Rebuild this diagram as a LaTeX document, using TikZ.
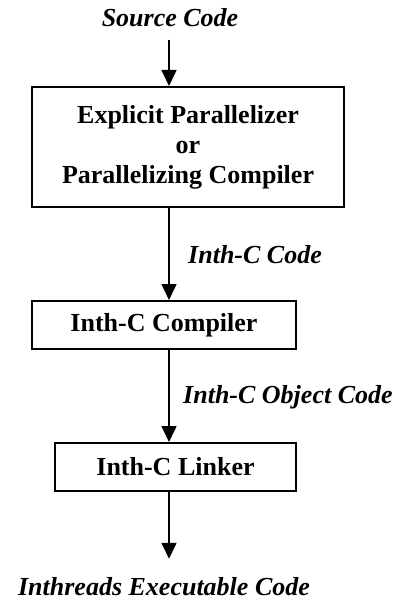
\documentclass[tikz,border=0pt]{standalone}
\usepackage{fontspec}
\setmainfont{Liberation Serif}
\usetikzlibrary{arrows.meta}
\begin{document}
\begin{tikzpicture}[x=1pt,y=-1pt,
  stagebox/.style={draw,line width=2pt,inner sep=0pt,align=center,
    font=\fontsize{26}{30}\selectfont\bfseries},
  flowlabel/.style={inner sep=0pt,font=\fontsize{26}{30}\selectfont\bfseries\itshape},
  flowarrow/.style={line width=1.6pt,-{Triangle[width=15pt,length=16pt]}}]
\useasboundingbox (0,0) rectangle (396,601);
% vertical line that all arrows follow
\coordinate (ax) at (169,0);
% input and output texts
\node[flowlabel,anchor=base,inner ysep=12pt] (src) at (170,27) {Source Code};
\node[flowlabel,anchor=base,inner ysep=18pt] (out) at (164,595) {Inthreads Executable Code};
% processing stages
\node[stagebox,minimum width=312pt,minimum height=120pt] (b1) at (188,147)
  {Explicit Parallelizer\\or\\Parallelizing Compiler};
\node[stagebox,minimum width=264pt,minimum height=48pt] (b2) at (164,325) {Inth-C Compiler};
\node[stagebox,minimum width=241pt,minimum height=48pt] (b3) at (175.5,467) {Inth-C Linker};
% intermediate products
\node[flowlabel,anchor=base west] (l1) at (188,263) {Inth-C Code};
\node[flowlabel,anchor=base west] (l2) at (183,403) {Inth-C Object Code};
% flow
\draw[flowarrow] (src.south -| ax) -- (b1.north -| ax);
\draw[flowarrow] (b1.south -| ax) -- (b2.north -| ax);
\draw[flowarrow] (b2.south -| ax) -- (b3.north -| ax);
\draw[flowarrow] (b3.south -| ax) -- (out.north -| ax);
\end{tikzpicture}
\end{document}
